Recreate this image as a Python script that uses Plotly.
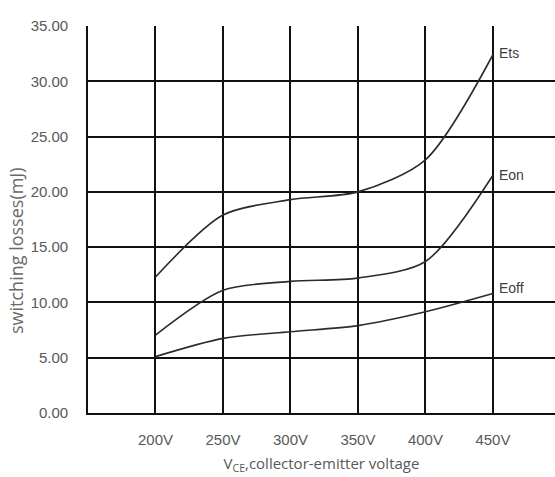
import plotly.graph_objects as go

voltages = [200, 250, 300, 350, 400, 450]
x_tick_labels = ["200V", "250V", "300V", "350V", "400V", "450V"]
ets = [12.3, 17.9, 19.3, 20.0, 22.9, 32.4]
eon = [7.05, 11.1, 11.9, 12.2, 13.7, 21.5]
eoff = [5.1, 6.75, 7.35, 7.9, 9.15, 10.8]
y_ticks = [0, 5, 10, 15, 20, 25, 30, 35]
series_names = ["Ets", "Eon", "Eoff"]
label_shift = [2, 0, 6]

tick_font = "Liberation Sans, Arial, sans-serif"
line_color = "#2b2b2b"

fig = go.Figure()
for name, vals, ys in zip(series_names, [ets, eon, eoff], label_shift):
    fig.add_trace(go.Scatter(
        x=voltages, y=vals, mode="lines", name=name,
        line=dict(color=line_color, width=1.6, shape="spline", smoothing=0.8),
        showlegend=False, hoverinfo="skip",
    ))
    fig.add_annotation(
        x=voltages[-1], y=vals[-1], text=name, showarrow=False,
        xanchor="left", yanchor="middle", xshift=4, yshift=ys,
        font=dict(family=tick_font, size=14, color="#404040"),
    )

fig.add_annotation(
    xref="paper", yref="paper", x=-0.153, y=0.42,
    text="switching losses(mJ)", textangle=-90, showarrow=False,
    xanchor="center", yanchor="middle",
    font=dict(family="Open Sans, sans-serif", size=18, color="#6a6a6a"),
)

fig.update_layout(
    width=555, height=477,
    margin=dict(l=88, r=0, t=26, b=64),
    paper_bgcolor="white", plot_bgcolor="white",
    xaxis=dict(
        range=[150, 496], tickvals=voltages, ticktext=x_tick_labels,
        showgrid=True, gridcolor="#111111", gridwidth=1.6,
        zeroline=False, showline=True, linecolor="#111111", linewidth=1.6,
        ticks="outside", ticklen=12, tickcolor="white",
        tickfont=dict(family=tick_font, size=15, color="#595959"),
        title=dict(text="V<sub>CE</sub>,collector-emitter voltage",
                   font=dict(family="Open Sans, sans-serif", size=15, color="#595959"),
                   standoff=12),
    ),
    yaxis=dict(
        range=[0, 35], tickvals=y_ticks, tickformat=".2f",
        showgrid=True, gridcolor="#111111", gridwidth=1.6,
        zeroline=False, showline=True, linecolor="#111111", linewidth=1.6,
        ticks="outside", ticklen=15, tickcolor="white",
        tickfont=dict(family=tick_font, size=15, color="#595959"),
    ),
)

fig.write_html("out.html")
